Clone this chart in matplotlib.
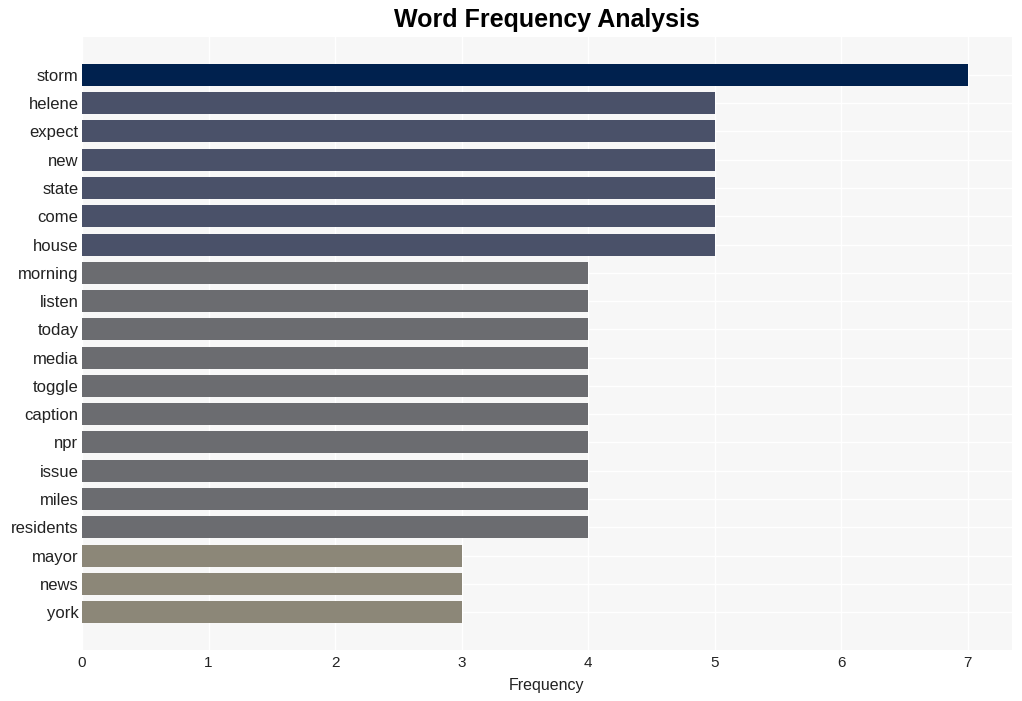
import matplotlib
matplotlib.use("Agg")
import matplotlib.pyplot as plt

words = ["storm", "helene", "expect", "new", "state", "come", "house", "morning",
         "listen", "today", "media", "toggle", "caption", "npr", "issue", "miles",
         "residents", "mayor", "news", "york"]
counts = [7, 5, 5, 5, 5, 5, 5, 4, 4, 4, 4, 4, 4, 4, 4, 4, 4, 3, 3, 3]
color_map = {7: "#00214e", 5: "#4a5169", 4: "#6b6c70", 3: "#8c8778"}

plt.rcParams['font.family'] = ['Liberation Sans', 'DejaVu Sans']

fig = plt.figure(figsize=(10.22, 7.01), dpi=100)
ax = fig.add_axes([82/1022, 51/701, 930/1022, 613/701])
ax.set_facecolor("#f7f7f7")
ypos = list(range(len(words)))
ax.barh(ypos, counts, height=0.78, color=[color_map[c] for c in counts], zorder=2)
ax.set_yticks(ypos)
ax.set_yticklabels(words, fontsize=12, color="#222222")
ax.set_ylim(len(words) - 1 + 1.34, -1.34)
ax.set_xlim(0, 7.35)
ax.set_xticks(range(8))
ax.tick_params(axis='x', labelsize=11, colors="#222222", length=0, pad=4)
ax.tick_params(axis='y', length=0, pad=2.5)
ax.grid(True, color="white", linewidth=1, zorder=0)
ax.set_axisbelow(True)
for s in ax.spines.values():
    s.set_visible(False)
ax.set_xlabel("Frequency", fontsize=11.5, color="#222222", labelpad=6)
fig.suptitle("Word Frequency Analysis", fontsize=18, fontweight="bold", y=0.988, x=547/1022)
fig.savefig("out.png", dpi=100, facecolor="white")
